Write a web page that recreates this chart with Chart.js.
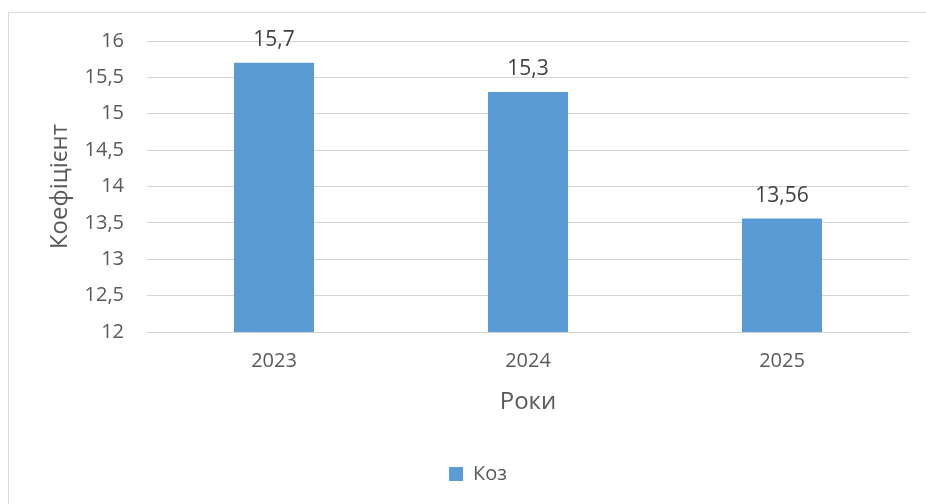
<!DOCTYPE html>
<html lang="uk">
<head>
<meta charset="utf-8">
<title>Коефіцієнт за роками</title>
<script src="https://cdn.jsdelivr.net/npm/chart.js@4/dist/chart.umd.min.js"></script>
<style>
  html, body { margin: 0; padding: 0; background: #ffffff; }
  #wrap { position: relative; width: 926px; height: 504px; overflow: hidden; }
  #frame {
    position: absolute; left: 8px; top: 12px; width: 1000px; height: 600px;
    border: 1px solid #d9d9d9; box-sizing: border-box;
  }
  #chart { position: absolute; left: 0; top: 0; }
</style>
</head>
<body>
<div id="wrap">
  <div id="frame"></div>
  <canvas id="chart" width="926" height="504"></canvas>
</div>
<script>
// Years on the horizontal axis
const years = ['2023', '2024', '2025'];
// Coefficient value for each year
const kozValues = [15.7, 15.3, 13.56];
// Series name shown in the legend
const seriesName = 'Коз';
// Value-axis ticks
const yTicks = [12, 12.5, 13, 13.5, 14, 14.5, 15, 15.5, 16];

const FONT = '"Open Sans", "Liberation Sans", sans-serif';
const toComma = v => String(v).replace('.', ',');

// Writes each bar's value above it
const valueLabels = {
  id: 'valueLabels',
  afterDatasetsDraw(chart) {
    const ctx = chart.ctx;
    ctx.save();
    ctx.font = '21px ' + FONT;
    ctx.fillStyle = '#404040';
    ctx.textAlign = 'center';
    ctx.textBaseline = 'alphabetic';
    chart.data.datasets.forEach((ds, di) => {
      chart.getDatasetMeta(di).data.forEach((bar, i) => {
        ctx.fillText(toComma(ds.data[i]), bar.x, bar.y - 17);
      });
    });
    ctx.restore();
  }
};

// Centres the legend under the plot area rather than the whole canvas
const legendShift = {
  id: 'legendShift',
  afterLayout(chart) {
    const lg = chart.legend;
    if (!lg) return;
    const dx = (chart.chartArea.left + chart.chartArea.right) / 2 - (lg.left + lg.right) / 2 - 50;
    lg.left += dx;
    lg.right += dx;
  }
};

new Chart(document.getElementById('chart'), {
  type: 'bar',
  data: {
    labels: years,
    datasets: [{
      label: seriesName,
      data: kozValues,
      backgroundColor: '#5b9bd5',
      borderWidth: 0,
      categoryPercentage: 1,
      barPercentage: 0.315
    }]
  },
  options: {
    responsive: false,
    animation: false,
    devicePixelRatio: 1,
    layout: { padding: { top: 41, right: 17, bottom: 10, left: 0 } },
    plugins: {
      tooltip: { enabled: false },
      legend: {
        position: 'bottom',
        labels: {
          font: { family: FONT, size: 20 },
          color: '#595959',
          boxWidth: 14,
          boxHeight: 14,
          padding: 10
        }
      }
    },
    scales: {
      x: {
        grid: { display: false, drawTicks: false },
        border: { display: true, color: '#d4d4d4', width: 1 },
        ticks: { font: { family: FONT, size: 20 }, color: '#595959', padding: 17 },
        title: {
          display: true, text: 'Роки', color: '#595959',
          font: { family: FONT, size: 24 },
          padding: { top: 0, bottom: 37 }
        },
        afterFit(scale) { scale.height = 122; }
      },
      y: {
        min: 12, max: 16,
        grid: { color: '#d4d4d4', lineWidth: 1, drawTicks: false },
        border: { display: false },
        afterBuildTicks(scale) { scale.ticks = yTicks.map(v => ({ value: v })); },
        ticks: {
          font: { family: FONT, size: 20 }, color: '#595959', padding: 23,
          callback: v => toComma(v)
        },
        title: {
          display: true, text: 'Коефіцієнт', color: '#595959',
          font: { family: FONT, size: 24 },
          padding: { top: 46, bottom: 0 }
        },
        afterFit(scale) { scale.width = 147; }
      }
    }
  },
  plugins: [valueLabels, legendShift]
});
</script>
</body>
</html>
